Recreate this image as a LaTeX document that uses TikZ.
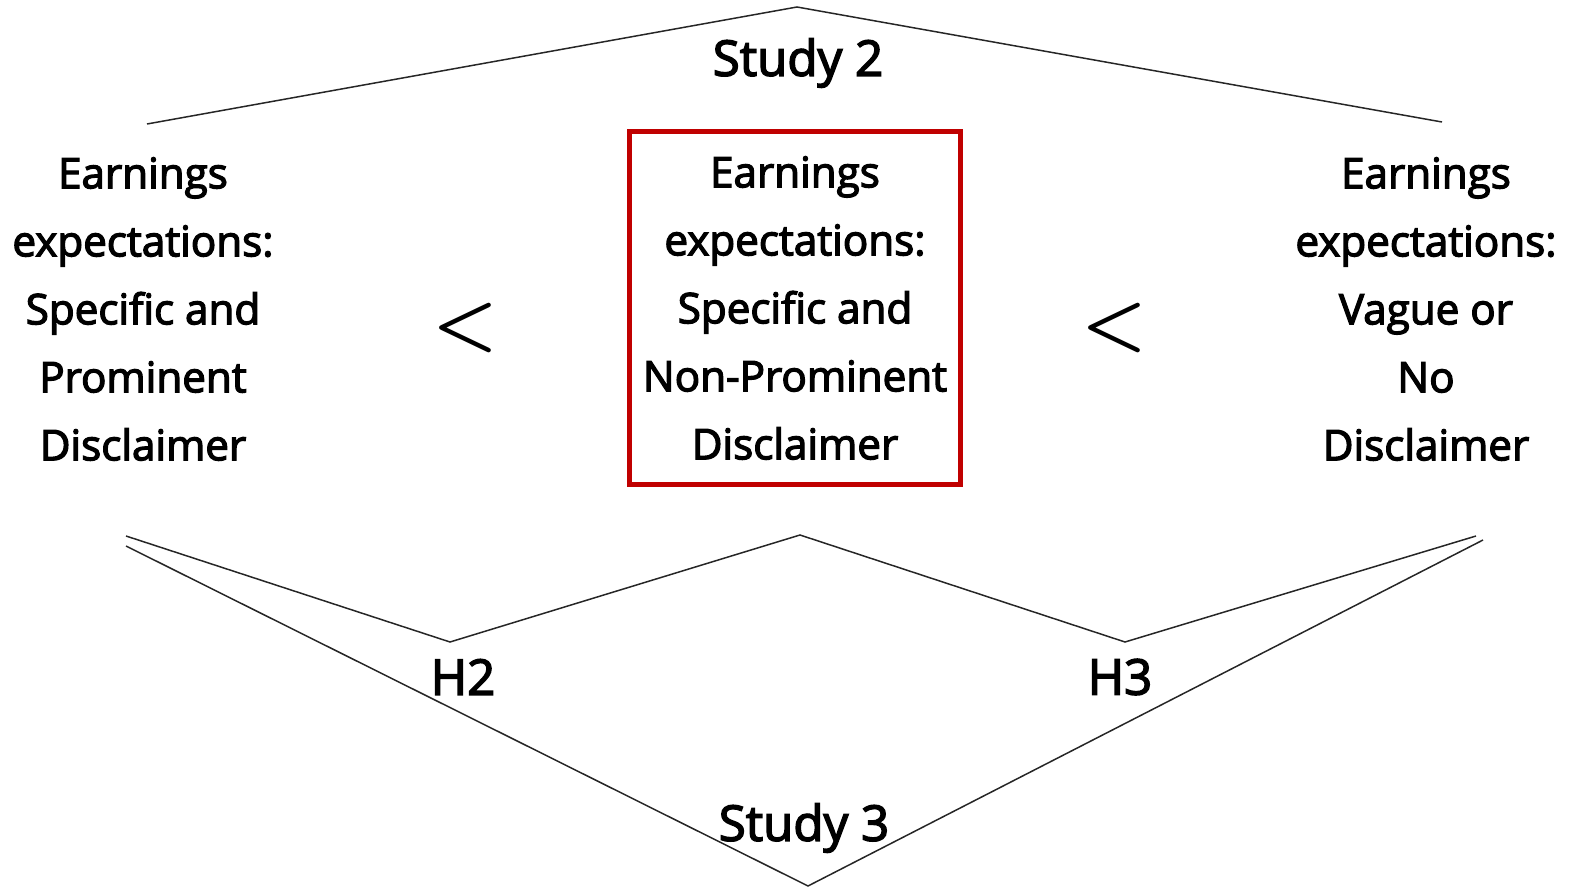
\documentclass[tikz,border=0pt]{standalone}
\usepackage{graphicx}
\usepackage{fontspec}
\setmainfont{Open Sans}
\newfontfamily\medfont{Open Sans}[FakeBold=3]
\definecolor{boxred}{RGB}{192,0,0}
\tikzset{
  cond/.style={align=center, font=\medfont\fontsize{24}{38.7}\selectfont},
  study/.style={font=\medfont\fontsize{28}{30}\selectfont},
  less/.style={inner sep=0pt},
  bracket/.style={line width=0.85pt, black!85}
}
\newcommand{\lessmark}{\scalebox{4.2}{\boldmath$<$}}

\begin{document}
\begin{tikzpicture}[x=0.02cm,y=-0.02cm]
      \useasboundingbox (0,0) rectangle (1570,889);
      \draw
        (798,63) node[study] (study2){Study 2}
        (143,309) node[cond] (specprom){Earnings\\expectations:\\Specific and\\Prominent\\Disclaimer}
        (795,308) node[cond, draw=boxred, line width=2.8pt, minimum width=6.62cm, minimum height=7.06cm] (specnonprom){Earnings\\expectations:\\Specific and\\Non-Prominent\\Disclaimer}
        (1426,309) node[cond] (vague){Earnings\\expectations:\\Vague or\\No\\Disclaimer}
        (465,328) node[less] (less1){\lessmark}
        (1114,328) node[less] (less2){\lessmark}
        (463,677) node[study] (h2){H2}
        (1120,677) node[study] (h3){H3}
        (804,828) node[study] (study3){Study 3};
      \coordinate (s2left) at (147,124);
      \coordinate (s2top) at (797,7);
      \coordinate (s2right) at (1442,122);
      \coordinate (h2left) at (126,536);
      \coordinate (h2tip) at (450,642);
      \coordinate (midtop) at (800,535);
      \coordinate (h3tip) at (1125,642);
      \coordinate (h3right) at (1476,536);
      \coordinate (s3left) at (126,546);
      \coordinate (s3tip) at (808,886);
      \coordinate (s3right) at (1483,540);
      \begin{scope}[bracket]
        \draw (s2left) -- (s2top) -- (s2right);
        \draw (h2left) -- (h2tip) -- (midtop) -- (h3tip) -- (h3right);
        \draw (s3left) -- (s3tip) -- (s3right);
      \end{scope}
    \end{tikzpicture}
\end{document}
